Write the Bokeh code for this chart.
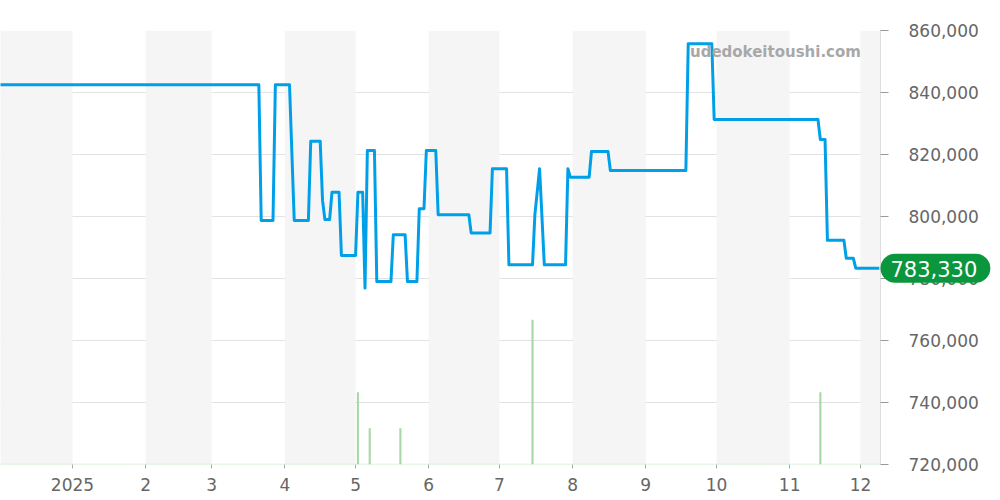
import pandas as pd
from bokeh.plotting import figure
from bokeh.models import Range1d, FixedTicker, NumeralTickFormatter, BoxAnnotation, Label, Span, ColumnDataSource
from bokeh.embed import file_html
from bokeh.resources import INLINE

price_dates = [
    "2024-12-01", "2025-03-21", "2025-03-22", "2025-03-27", "2025-03-28", "2025-04-03",
    "2025-04-05", "2025-04-11", "2025-04-12", "2025-04-16", "2025-04-17", "2025-04-18",
    "2025-04-20", "2025-04-21", "2025-04-24", "2025-04-25", "2025-05-01", "2025-05-02",
    "2025-05-04", "2025-05-05", "2025-05-06", "2025-05-09", "2025-05-10", "2025-05-16",
    "2025-05-17", "2025-05-22", "2025-05-23", "2025-05-27", "2025-05-28", "2025-05-30",
    "2025-05-31", "2025-06-04", "2025-06-05", "2025-06-18", "2025-06-19", "2025-06-27",
    "2025-06-28", "2025-07-04", "2025-07-05", "2025-07-15", "2025-07-16", "2025-07-18",
    "2025-07-20", "2025-07-29", "2025-07-30", "2025-07-31", "2025-08-08", "2025-08-09",
    "2025-08-16", "2025-08-17", "2025-09-18", "2025-09-19", "2025-09-29", "2025-09-30",
    "2025-11-13", "2025-11-14", "2025-11-16", "2025-11-17", "2025-11-24", "2025-11-25",
    "2025-11-28", "2025-11-29", "2025-12-09",
]
price_values = [
    842500, 842500, 798700, 798700, 842500, 842500,
    798700, 798700, 824300, 824300, 805200, 799000,
    799000, 807800, 807800, 787400, 787400, 807800,
    807800, 776900, 821300, 821300, 779000, 779000,
    794100, 794100, 779000, 779000, 802500, 802500,
    821300, 821300, 800600, 800600, 794700, 794700,
    815400, 815400, 784400, 784400, 800500, 815400,
    784400, 784400, 815400, 812700, 812700, 821000,
    821000, 814800, 814800, 855700, 855700, 831300,
    831300, 824800, 824800, 792300, 792300, 786500,
    786500, 783330, 783330,
]

volume_dates = ["2025-05-02", "2025-05-07", "2025-05-20", "2025-07-15", "2025-11-14"]
volume_values = [2, 1, 1, 4, 2]

month_ticks = ["2025-01-01", "2025-02-01", "2025-03-01", "2025-04-01", "2025-05-01", "2025-06-01",
               "2025-07-01", "2025-08-01", "2025-09-01", "2025-10-01", "2025-11-01", "2025-12-01"]
month_labels = ["2025", "2", "3", "4", "5", "6", "7", "8", "9", "10", "11", "12"]

shaded_starts = ["2024-12-01", "2025-02-01", "2025-04-01", "2025-06-01", "2025-08-01", "2025-10-01", "2025-12-01"]
shaded_ends = ["2025-01-01", "2025-03-01", "2025-05-01", "2025-07-01", "2025-09-01", "2025-11-01", "2026-01-01"]

y_ticks = [720000, 740000, 760000, 780000, 800000, 820000, 840000, 860000]
watermark_text = "udedokeitoushi.com"
FONT = "DejaVu Sans"


def ms(s):
    return float(pd.Timestamp(s).value // 10**6)


x_start = pd.Timestamp("2024-12-01 12:00")
x_end = pd.Timestamp("2025-12-09 12:00")

p = figure(
    x_axis_type="datetime",
    frame_width=880, frame_height=434,
    x_range=Range1d(x_start, x_end),
    y_range=Range1d(720000, 860000),
    y_axis_location="right",
    output_backend="svg",
    toolbar_location=None,
    min_border_left=0, min_border_right=120,
    min_border_top=30, min_border_bottom=36,
)
p.outline_line_color = None
p.background_fill_color = "white"
p.border_fill_color = "white"
p.xgrid.grid_line_color = None
p.ygrid.grid_line_color = "#e2e2e2"
p.ygrid.ticker = FixedTicker(ticks=y_ticks)

p.extra_y_ranges = {"vol": Range1d(0, 12)}

for s, e in zip(shaded_starts, shaded_ends):
    p.add_layout(BoxAnnotation(left=ms(s), right=ms(e), fill_color="#f5f5f5", fill_alpha=1.0,
                               line_color=None, level="underlay"))

# volume
p.add_layout(Span(location=0, dimension="width", y_range_name="vol", line_color="#a8d8a8",
                  line_width=1.5, line_dash="1 1"))
vsrc = ColumnDataSource(dict(x=pd.to_datetime(volume_dates), top=volume_values))
p.vbar(x="x", top="top", bottom=0, width=0.9 * 86400000, source=vsrc, y_range_name="vol",
       fill_color="#a8d8a8", line_color=None)

# price
psrc = ColumnDataSource(dict(x=pd.to_datetime(price_dates), y=price_values))
p.line(x="x", y="y", source=psrc, line_color="#00a0e9", line_width=3, line_join="round")

# axes
xa = p.xaxis[0]
xa.ticker = FixedTicker(ticks=[ms(d) for d in month_ticks])
xa.major_label_overrides = {ms(d): lab for d, lab in zip(month_ticks, month_labels)}
xa.axis_line_color = None
xa.major_tick_line_color = "#aaaaaa"
xa.major_tick_out = 4
xa.major_tick_in = 0
xa.minor_tick_line_color = None
xa.major_label_text_font = FONT
xa.major_label_text_font_size = "17px"
xa.major_label_text_color = "#666666"
xa.major_label_standoff = 9

ya = p.yaxis[0]
ya.ticker = FixedTicker(ticks=y_ticks)
ya.formatter = NumeralTickFormatter(format="0,0")
ya.axis_line_color = "#dddddd"
ya.major_tick_line_color = "#999999"
ya.major_tick_out = 8
ya.major_tick_in = 0
ya.minor_tick_line_color = None
ya.major_label_text_font = FONT
ya.major_label_text_font_size = "17px"
ya.major_label_text_color = "#666666"
ya.major_label_standoff = 20

# watermark
p.add_layout(Label(x=ms("2025-12-01 05:00"), y=853000, text=watermark_text, text_align="right",
                   text_baseline="middle", text_font=FONT, text_font_style="bold",
                   text_font_size="15px", text_color="#a8a8a8"))

# latest price badge
last_val = price_values[-1]
p.add_layout(Label(x=ms(x_end), y=last_val, text=f"{last_val:,}", text_align="left",
                   text_baseline="middle", x_offset=0, text_font=FONT, text_font_size="21px",
                   text_color="white", background_fill_color="#0a963c",
                   padding=dict(left=10, right=13, top=7, bottom=6), border_radius=15), "right")

open("out.html", "w").write(file_html(p, INLINE))
